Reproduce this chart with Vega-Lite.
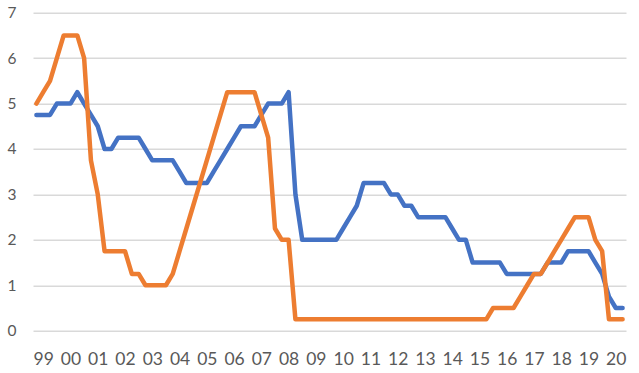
{
  "$schema": "https://vega.github.io/schema/vega-lite/v6.json",
  "autosize": {"type": "none"},
  "padding": {"left": 33, "top": 12.7, "right": 13, "bottom": 42.3},
  "width": 593,
  "height": 318,
  "background": "white",
  "config": {
    "view": {"stroke": null},
    "font": "Lato",
    "axis": {"domain": false, "ticks": false, "labelColor": "#595959", "labelFont": "Lato"}
  },
  "data": {"values": [
    {"t": 1998.75, "a": 4.75, "b": 5},
    {"t": 1999, "a": 4.75, "b": 5.25},
    {"t": 1999.25, "a": 4.75, "b": 5.5},
    {"t": 1999.5, "a": 5, "b": 6},
    {"t": 1999.75, "a": 5, "b": 6.5},
    {"t": 2000, "a": 5, "b": 6.5},
    {"t": 2000.25, "a": 5.25, "b": 6.5},
    {"t": 2000.5, "a": 5, "b": 6},
    {"t": 2000.75, "a": 4.75, "b": 3.75},
    {"t": 2001, "a": 4.5, "b": 3},
    {"t": 2001.25, "a": 4, "b": 1.75},
    {"t": 2001.5, "a": 4, "b": 1.75},
    {"t": 2001.75, "a": 4.25, "b": 1.75},
    {"t": 2002, "a": 4.25, "b": 1.75},
    {"t": 2002.25, "a": 4.25, "b": 1.25},
    {"t": 2002.5, "a": 4.25, "b": 1.25},
    {"t": 2002.75, "a": 4, "b": 1},
    {"t": 2003, "a": 3.75, "b": 1},
    {"t": 2003.25, "a": 3.75, "b": 1},
    {"t": 2003.5, "a": 3.75, "b": 1},
    {"t": 2003.75, "a": 3.75, "b": 1.25},
    {"t": 2004, "a": 3.5, "b": 1.75},
    {"t": 2004.25, "a": 3.25, "b": 2.25},
    {"t": 2004.5, "a": 3.25, "b": 2.75},
    {"t": 2004.75, "a": 3.25, "b": 3.25},
    {"t": 2005, "a": 3.25, "b": 3.75},
    {"t": 2005.25, "a": 3.5, "b": 4.25},
    {"t": 2005.5, "a": 3.75, "b": 4.75},
    {"t": 2005.75, "a": 4, "b": 5.25},
    {"t": 2006, "a": 4.25, "b": 5.25},
    {"t": 2006.25, "a": 4.5, "b": 5.25},
    {"t": 2006.5, "a": 4.5, "b": 5.25},
    {"t": 2006.75, "a": 4.5, "b": 5.25},
    {"t": 2007, "a": 4.75, "b": 4.75},
    {"t": 2007.25, "a": 5, "b": 4.25},
    {"t": 2007.5, "a": 5, "b": 2.25},
    {"t": 2007.75, "a": 5, "b": 2},
    {"t": 2008, "a": 5.25, "b": 2},
    {"t": 2008.25, "a": 3, "b": 0.25},
    {"t": 2008.5, "a": 2, "b": 0.25},
    {"t": 2008.75, "a": 2, "b": 0.25},
    {"t": 2009, "a": 2, "b": 0.25},
    {"t": 2009.25, "a": 2, "b": 0.25},
    {"t": 2009.5, "a": 2, "b": 0.25},
    {"t": 2009.75, "a": 2, "b": 0.25},
    {"t": 2010, "a": 2.25, "b": 0.25},
    {"t": 2010.25, "a": 2.5, "b": 0.25},
    {"t": 2010.5, "a": 2.75, "b": 0.25},
    {"t": 2010.75, "a": 3.25, "b": 0.25},
    {"t": 2011, "a": 3.25, "b": 0.25},
    {"t": 2011.25, "a": 3.25, "b": 0.25},
    {"t": 2011.5, "a": 3.25, "b": 0.25},
    {"t": 2011.75, "a": 3, "b": 0.25},
    {"t": 2012, "a": 3, "b": 0.25},
    {"t": 2012.25, "a": 2.75, "b": 0.25},
    {"t": 2012.5, "a": 2.75, "b": 0.25},
    {"t": 2012.75, "a": 2.5, "b": 0.25},
    {"t": 2013, "a": 2.5, "b": 0.25},
    {"t": 2013.25, "a": 2.5, "b": 0.25},
    {"t": 2013.5, "a": 2.5, "b": 0.25},
    {"t": 2013.75, "a": 2.5, "b": 0.25},
    {"t": 2014, "a": 2.25, "b": 0.25},
    {"t": 2014.25, "a": 2, "b": 0.25},
    {"t": 2014.5, "a": 2, "b": 0.25},
    {"t": 2014.75, "a": 1.5, "b": 0.25},
    {"t": 2015, "a": 1.5, "b": 0.25},
    {"t": 2015.25, "a": 1.5, "b": 0.25},
    {"t": 2015.5, "a": 1.5, "b": 0.5},
    {"t": 2015.75, "a": 1.5, "b": 0.5},
    {"t": 2016, "a": 1.25, "b": 0.5},
    {"t": 2016.25, "a": 1.25, "b": 0.5},
    {"t": 2016.5, "a": 1.25, "b": 0.75},
    {"t": 2016.75, "a": 1.25, "b": 1},
    {"t": 2017, "a": 1.25, "b": 1.25},
    {"t": 2017.25, "a": 1.25, "b": 1.25},
    {"t": 2017.5, "a": 1.5, "b": 1.5},
    {"t": 2017.75, "a": 1.5, "b": 1.75},
    {"t": 2018, "a": 1.5, "b": 2},
    {"t": 2018.25, "a": 1.75, "b": 2.25},
    {"t": 2018.5, "a": 1.75, "b": 2.5},
    {"t": 2018.75, "a": 1.75, "b": 2.5},
    {"t": 2019, "a": 1.75, "b": 2.5},
    {"t": 2019.25, "a": 1.5, "b": 2},
    {"t": 2019.5, "a": 1.25, "b": 1.75},
    {"t": 2019.75, "a": 0.75, "b": 0.25},
    {"t": 2020, "a": 0.5, "b": 0.25},
    {"t": 2020.25, "a": 0.5, "b": 0.25}
  ]},
  "encoding": {
    "x": {
      "field": "t", "type": "quantitative",
      "scale": {"domain": [1998.625, 2020.375], "nice": false, "zero": false},
      "axis": {
        "title": null, "grid": false,
        "values": [1999,2000,2001,2002,2003,2004,2005,2006,2007,2008,2009,2010,2011,2012,2013,2014,2015,2016,2017,2018,2019,2020],
        "labelExpr": "substring(toString(datum.value), 2)",
        "labelFontSize": 17.5, "labelPadding": 19.5, "labelFlush": false, "labelOverlap": false
      }
    }
  },
  "layer": [
    {
      "mark": {"type": "line", "color": "#4472C4", "strokeWidth": 4.5, "strokeJoin": "round", "strokeCap": "round"},
      "encoding": {
        "y": {
          "field": "a", "type": "quantitative",
          "scale": {"domain": [0, 7], "nice": false},
          "axis": {
            "title": null, "grid": true, "gridColor": "#d9d9d9", "gridWidth": 1.5,
            "values": [0,1,2,3,4,5,6,7], "format": "d",
            "labelFontSize": 15.5, "labelPadding": 17
          }
        }
      }
    },
    {
      "mark": {"type": "line", "color": "#ED7D31", "strokeWidth": 4.5, "strokeJoin": "round", "strokeCap": "round"},
      "encoding": {
        "y": {"field": "b", "type": "quantitative", "scale": {"domain": [0, 7], "nice": false}}
      }
    }
  ]
}
